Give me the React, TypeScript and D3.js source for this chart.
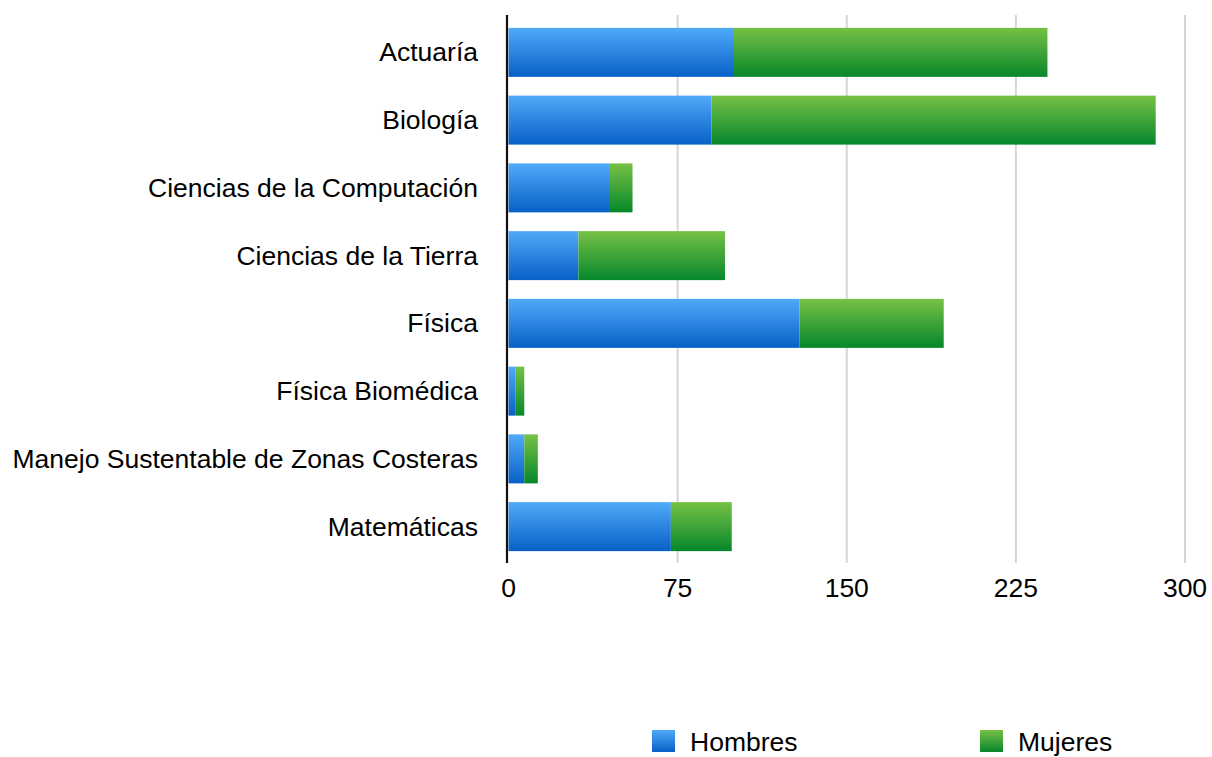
import React from "react";
import * as d3 from "d3";

const categories = [
  "Actuaría",
  "Biología",
  "Ciencias de la Computación",
  "Ciencias de la Tierra",
  "Física",
  "Física Biomédica",
  "Manejo Sustentable de Zonas Costeras",
  "Matemáticas",
];
const hombres = [100, 90, 45, 31, 129, 3, 7, 72];
const mujeres = [139, 197, 10, 65, 64, 4, 6, 27];
const seriesNames = ["Hombres", "Mujeres"];
const xTicks = [0, 75, 150, 225, 300];

const W = 1212;
const H = 757;
const FONT = "'Liberation Sans', Arial, Helvetica, sans-serif";

export default function App() {
  const x = d3.scaleLinear().domain([0, 300]).range([508.5, 1185]);
  const y = d3
    .scaleBand<string>()
    .domain(categories)
    .range([15, 564])
    .paddingInner(0.277)
    .paddingOuter(0.19);
  const bw = y.bandwidth();
  const top = 15;
  const bottom = 563;

  const rows = categories.map((c, i) => ({ c, h: hombres[i], m: mujeres[i] }));
  const stack = d3.stack<any>().keys(["h", "m"])(rows as any);

  return (
    <svg
      width={W}
      height={H}
      style={{ position: "absolute", left: 0, top: 0, background: "#fff" }}
      fontFamily={FONT}
    >
      <defs>
        <linearGradient id="gBlue" x1="0" y1="0" x2="0" y2="1">
          <stop offset="0%" stopColor="#50aaf9" />
          <stop offset="100%" stopColor="#0760c6" />
        </linearGradient>
        <linearGradient id="gGreen" x1="0" y1="0" x2="0" y2="1">
          <stop offset="0%" stopColor="#76c145" />
          <stop offset="100%" stopColor="#06872b" />
        </linearGradient>
      </defs>

      {xTicks.slice(1).map((t) => (
        <line
          key={t}
          x1={x(t)}
          x2={x(t)}
          y1={top}
          y2={bottom}
          stroke="#d6d6d6"
          strokeWidth={2}
        />
      ))}

      {stack.map((layer, li) =>
        layer.map((d: any, i: number) => (
          <rect
            key={`${li}-${i}`}
            x={x(d[0])}
            width={x(d[1]) - x(d[0])}
            y={y(categories[i])}
            height={bw}
            fill={li === 0 ? "url(#gBlue)" : "url(#gGreen)"}
          />
        ))
      )}

      <line x1={507} x2={507} y1={top} y2={bottom} stroke="#111" strokeWidth={2.2} />

      {categories.map((c) => (
        <text
          key={c}
          x={478}
          y={(y(c) as number) + bw / 2 + 9}
          textAnchor="end"
          fontSize={26.5}
          fill="#000"
        >
          {c}
        </text>
      ))}

      {xTicks.map((t) => (
        <text key={t} x={x(t)} y={597} textAnchor="middle" fontSize={26.5} fill="#000">
          {t}
        </text>
      ))}

      {seriesNames.map((s, i) => {
        const lx = i === 0 ? 652 : 980;
        return (
          <g key={s}>
            <rect
              x={lx}
              y={730}
              width={23}
              height={22}
              fill={i === 0 ? "url(#gBlue)" : "url(#gGreen)"}
            />
            <text x={lx + 38} y={751} fontSize={26.5} fill="#000">
              {s}
            </text>
          </g>
        );
      })}
    </svg>
  );
}
